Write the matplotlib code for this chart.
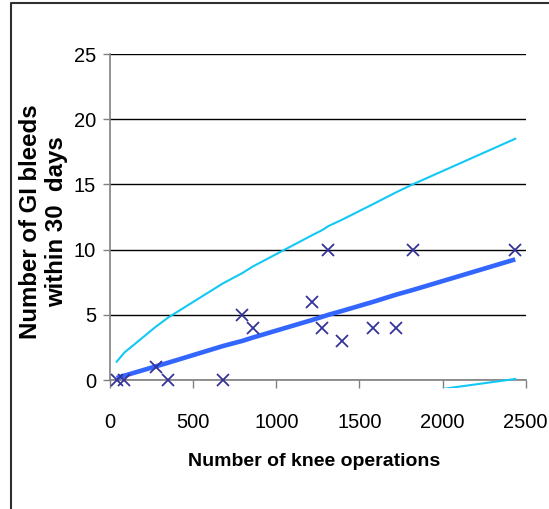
import numpy as np
import matplotlib.pyplot as plt
from matplotlib.lines import Line2D
from matplotlib.patches import Rectangle

# Data
operations = [40, 86, 277, 351, 678, 796, 858, 1215, 1277, 1313, 1397, 1584, 1722, 1820, 2437]
bleeds = [0, 0, 1, 0, 0, 5, 4, 6, 4, 10, 3, 4, 4, 10, 10]
expected = [0.15, 0.33, 1.05, 1.33, 2.6, 3.0, 3.25, 4.6, 4.85, 5.0, 5.3, 6.0, 6.55, 6.9, 9.25]
upper_limit = [1.4, 2.1, 4.1, 4.8, 7.4, 8.2, 8.7, 11.1, 11.5, 11.8, 12.3, 13.5, 14.4, 15.0, 18.5]
lower_x = [1820, 2437]
lower_limit = [-1.0, 0.08]

x_ticks = [0, 500, 1000, 1500, 2000, 2500]
y_ticks = [0, 5, 10, 15, 20, 25]

plt.rcParams['font.family'] = ['Liberation Sans', 'DejaVu Sans']

W, H = 549, 509
fig = plt.figure(figsize=(W / 100, H / 100), dpi=100)
ax = fig.add_axes([110 / W, (H - 380) / H, (525.7 - 110) / W, (380 - 54) / H])

# Control limits, trend and observed counts
ax.plot(operations, upper_limit, color='#12C8F5', lw=1.5, zorder=3)
low, = ax.plot(lower_x, lower_limit, color='#12C8F5', lw=1.5, zorder=3)
# the lower limit pokes a little below the axis, like the original plot area
low.set_clip_path(Rectangle((0, -0.62), 2600, 27, transform=ax.transData))
ax.plot(operations, expected, color='#3366FF', lw=3.3, solid_capstyle='butt', zorder=4)
ax.plot(operations, bleeds, linestyle='none', marker='x', color='#333399',
        markersize=9, markeredgewidth=1.3, zorder=5, clip_on=False)

ax.set_xlim(0, 2500)
ax.set_ylim(0, 25)
ax.set_xticks(x_ticks)
ax.set_yticks(y_ticks)
ax.set_xticklabels([str(t) for t in x_ticks], fontsize=14.5)
ax.set_yticklabels([str(t) for t in y_ticks], fontsize=14.5)

# Horizontal gridlines only
ax.yaxis.grid(True, color='black', lw=1.0)
ax.set_axisbelow(True)
for side in ['top', 'right']:
    ax.spines[side].set_visible(False)
for side in ['left', 'bottom']:
    ax.spines[side].set_color('#808080')
    ax.spines[side].set_linewidth(1.2)
ax.tick_params(axis='y', length=5, width=1, color='#808080', pad=5)
ax.tick_params(axis='x', length=6, width=1, color='#808080', pad=18)

fig.text(314 / W, 1 - 462 / H, 'Number of knee operations', fontsize=14,
         fontweight='bold', ha='center', va='center')
fig.text(43.5 / W, 1 - 222 / H, 'Number of GI bleeds\nwithin 30  days', fontsize=17.3,
         fontweight='bold', rotation=90, ha='center', va='center',
         multialignment='center', linespacing=1.12)

# Chart border (left and top edges visible)
fig.add_artist(Line2D([11 / W, 11 / W, 1], [0, 1 - 3 / H, 1 - 3 / H],
                      transform=fig.transFigure, color='#303030', lw=1.5))

fig.savefig('out.png', dpi=100)
